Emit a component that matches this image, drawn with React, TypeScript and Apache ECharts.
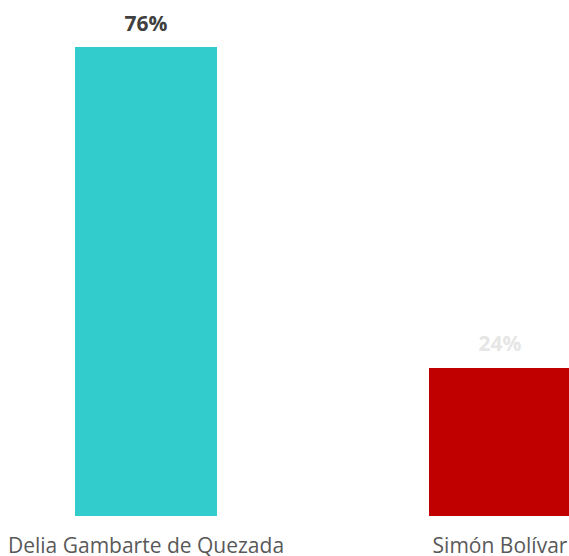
import React, { useEffect, useRef } from "react";
import * as echarts from "echarts";

const categories = ["Delia Gambarte de Quezada", "Simón Bolívar"];
const values = [76, 24];
const barColors = ["#33CCCC", "#C00000"];
const labelColors = ["#404040", "#E6E6E6"];

export default function App() {
  const ref = useRef<HTMLDivElement>(null);
  useEffect(() => {
    if (!ref.current) return;
    const chart = echarts.init(ref.current, undefined, { renderer: "svg" });
    chart.setOption({
      animation: false,
      grid: { left: 0, right: 0, top: 47, bottom: 40, containLabel: false },
      xAxis: {
        type: "category",
        data: categories,
        axisLine: { show: false },
        axisTick: { show: false },
        axisLabel: {
          color: "#595959",
          fontSize: 21,
          fontFamily: "Open Sans",
          margin: 18,
          interval: 0,
        },
      },
      yAxis: {
        type: "value",
        min: 0,
        max: 76,
        show: false,
        splitLine: { show: false },
      },
      series: [
        {
          type: "bar",
          barWidth: 142,
          data: values.map((v, i) => ({
            value: v,
            itemStyle: { color: barColors[i] },
            label: { color: labelColors[i] },
          })),
          label: {
            show: true,
            position: "top",
            distance: 14,
            fontSize: 21,
            fontWeight: "bold",
            fontFamily: "Open Sans",
            formatter: "{c}%",
          },
        },
      ],
    });
    return () => chart.dispose();
  }, []);
  return (
    <div
      style={{
        position: "absolute",
        left: 0,
        top: 0,
        width: 569,
        height: 556,
        overflow: "hidden",
      }}
    >
      <div
        ref={ref}
        style={{ position: "absolute", left: -31, top: 0, width: 708, height: 556 }}
      />
    </div>
  );
}
